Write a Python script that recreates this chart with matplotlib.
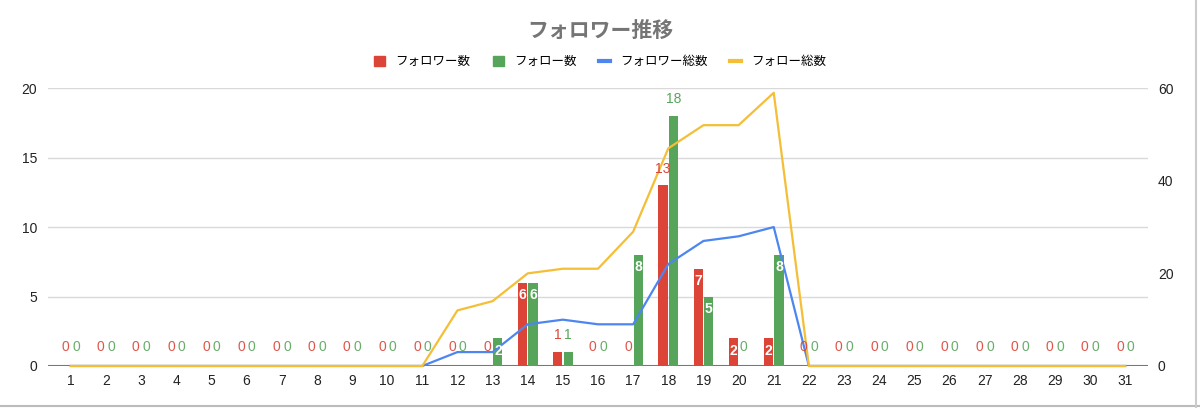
import matplotlib.pyplot as plt
import numpy as np
from matplotlib.patches import Patch
from matplotlib.lines import Line2D

plt.rcParams['font.family'] = ['Liberation Sans', 'Noto Sans CJK JP', 'DejaVu Sans']

# データ
days = list(range(1, 32))
follower_new = [0]*13 + [6, 1, 0, 0, 13, 7, 2, 2] + [0]*10
follow_new = [0]*12 + [2, 6, 1, 0, 8, 18, 5, 0, 8] + [0]*10
follower_total = [0]*11 + [3, 3, 9, 10, 9, 9, 22, 27, 28, 30] + [0]*10
follow_total = [0]*11 + [12, 14, 20, 21, 21, 29, 47, 52, 52, 59] + [0]*10

c_red = '#DB4437'
c_green = '#57A55A'
c_blue = '#4D86F0'
c_yellow = '#F4BE37'

fig = plt.figure(figsize=(12, 4.08), dpi=100)
ax = fig.add_axes([0.04, 0.103, 0.9167, 0.681])
ax2 = ax.twinx()

x = np.array(days)
w = 0.26
off = 0.15
ax.bar(x - off, follower_new, width=w, color=c_red, zorder=3)
ax.bar(x + off, follow_new, width=w, color=c_green, zorder=3)

ax2.plot(x, follower_total, color=c_blue, lw=1.6, zorder=4, clip_on=False)
ax2.plot(x, follow_total, color=c_yellow, lw=1.6, zorder=5, clip_on=False)

ax.set_xlim(0.35, 31.65)
ax.set_ylim(0, 20)
ax2.set_ylim(0, 60)
ax.set_yticks([0, 5, 10, 15, 20])
ax2.set_yticks([0, 20, 40, 60])
ax.set_xticks(days)
ax.grid(axis='y', color='#d9d9d9', lw=1, zorder=0)
ax.set_axisbelow(True)

for a in (ax, ax2):
    for s in ['top', 'left', 'right', 'bottom']:
        a.spines[s].set_visible(False)
    a.tick_params(length=0, labelsize=10, colors='#222222')
ax.axhline(0, color='#777777', lw=1.5, zorder=2)
ax.tick_params(axis='x', pad=6)
ax.tick_params(axis='y', pad=8)
ax2.tick_params(axis='y', pad=7)

# 値ラベル（線より前面）
for vals, dx, col in [(follower_new, -off, c_red), (follow_new, off, c_green)]:
    for d, v in zip(days, vals):
        if v == 0:
            ax2.text(d + dx, 1.37, '0', color=col, ha='center', va='center',
                     fontsize=10, zorder=6, alpha=0.9, transform=ax.transData)
        elif v <= 1 or v >= 13:
            ax2.annotate(str(v), (d + dx, v), xycoords=ax.transData, xytext=(0, 12),
                         textcoords='offset points', color=col, ha='center',
                         va='center', fontsize=10, zorder=6)
        else:
            ax2.annotate(str(v), (d + dx, v), xycoords=ax.transData, xytext=(0, -9),
                         textcoords='offset points', color='white', ha='center',
                         va='center', fontsize=10, fontweight='bold', zorder=6)

fig.text(0.5, 0.925, 'フォロワー推移', ha='center', va='center', fontsize=15,
         fontweight='bold', color='#757575')

handles = [Patch(color=c_red), Patch(color=c_green),
           Line2D([], [], color=c_blue, lw=3), Line2D([], [], color=c_yellow, lw=3)]
labels = ['フォロワー数', 'フォロー数', 'フォロワー総数', 'フォロー総数']
fig.legend(handles, labels, loc='center', bbox_to_anchor=(0.5, 0.848), ncol=4,
           frameon=False, fontsize=9, handlelength=0.9, handleheight=0.9,
           columnspacing=1.8, handletextpad=0.8)

# 枠線
fig.add_artist(Line2D([0, 1], [0.005, 0.005], color='#bbbbbb', lw=1.5, transform=fig.transFigure))
fig.add_artist(Line2D([0.997, 0.997], [0, 1], color='#cccccc', lw=1.5, transform=fig.transFigure))

fig.savefig('out.png', dpi=100)
